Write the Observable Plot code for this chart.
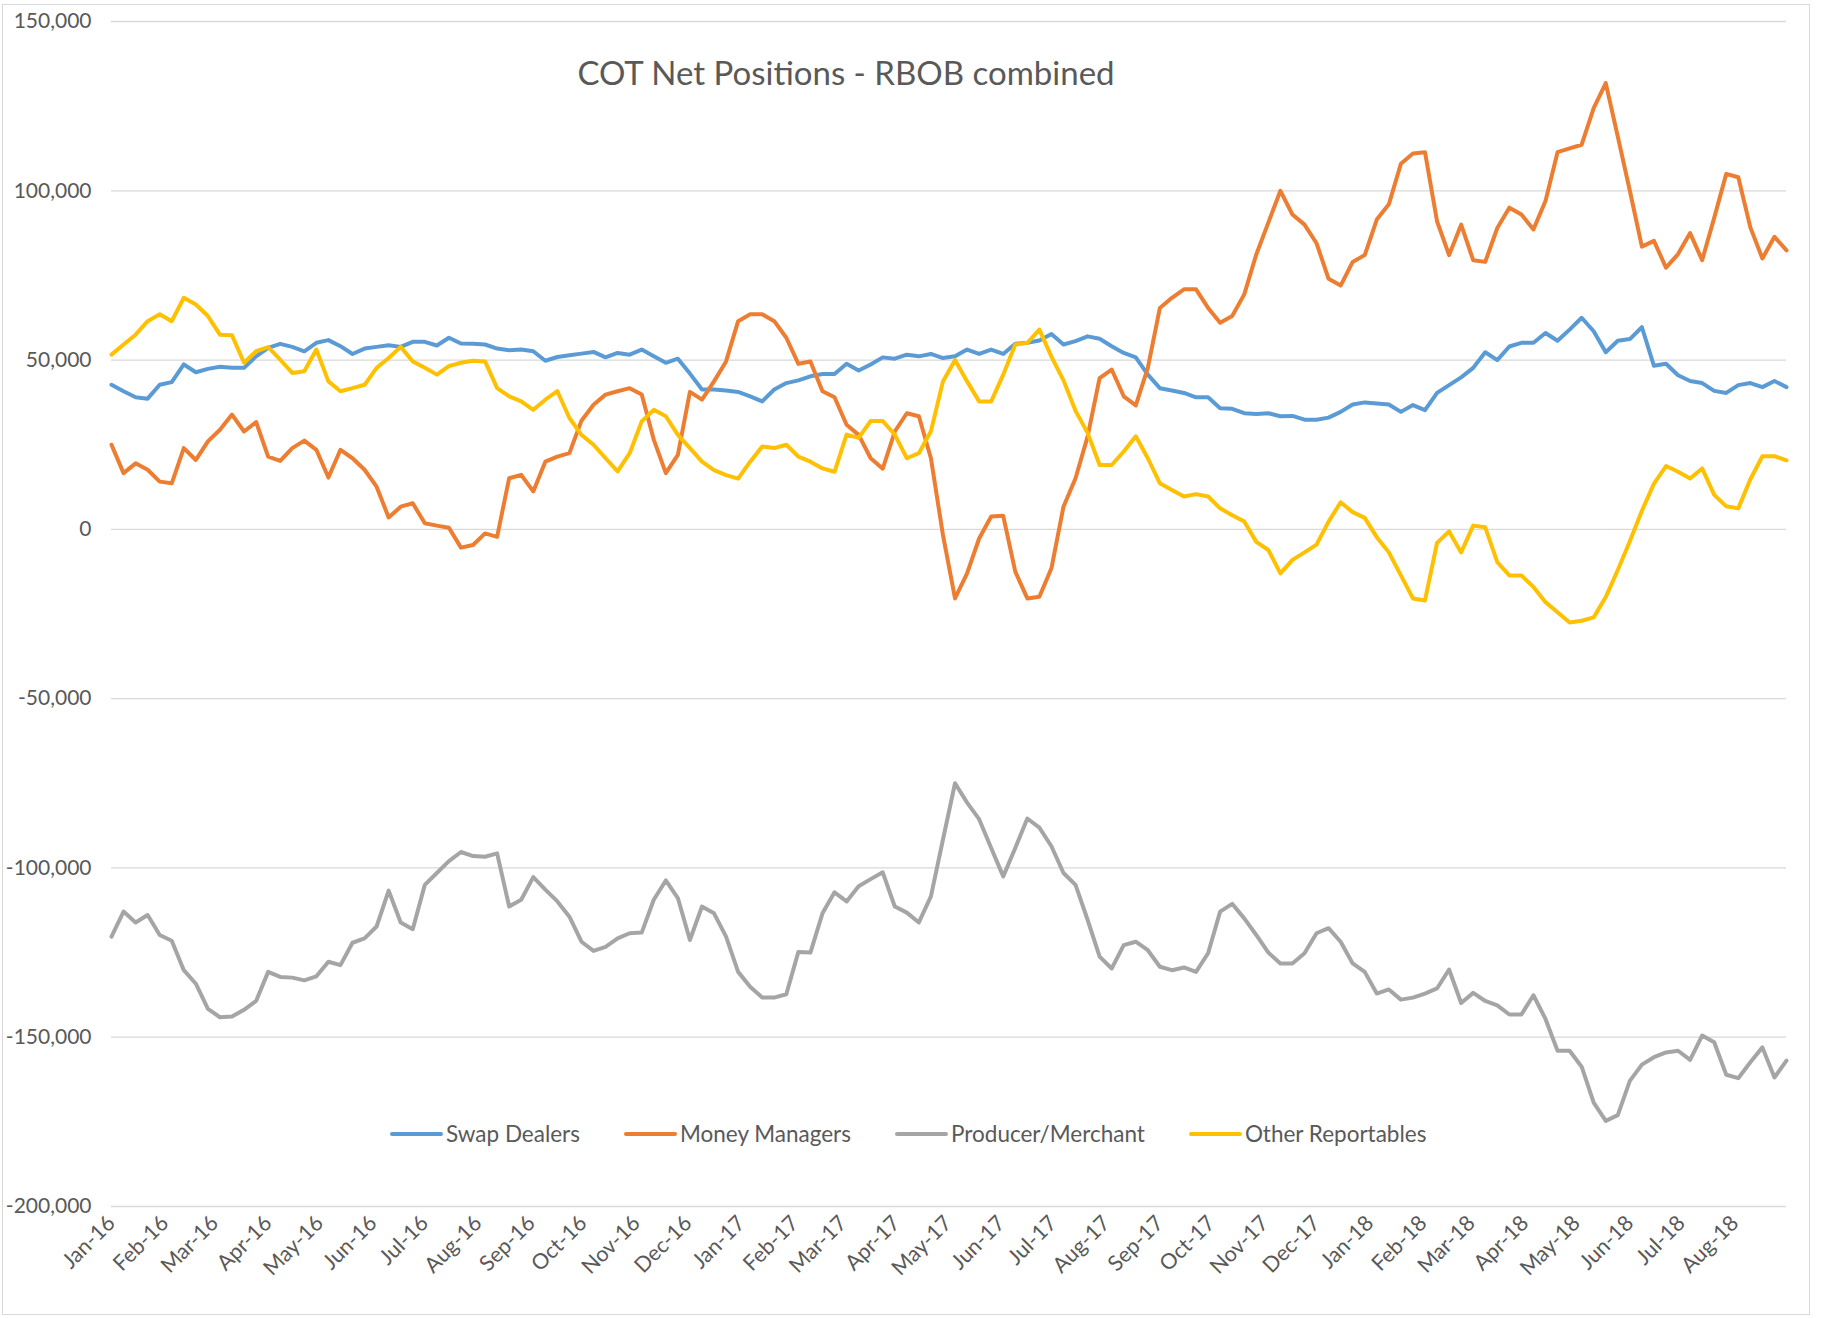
<!DOCTYPE html>
<html>
<head>
<meta charset="utf-8">
<script src="https://cdn.jsdelivr.net/npm/d3@7"></script>
<script src="https://cdn.jsdelivr.net/npm/@observablehq/plot@0.6"></script>
<style>
  html, body { margin: 0; padding: 0; background: #ffffff; }
  #wrap { position: relative; width: 1825px; height: 1318px; background: #ffffff; overflow: hidden; }
  #frame { position: absolute; left: 2px; top: 4px; width: 1808px; height: 1311px; border: 1.5px solid #d9d9d9; box-sizing: border-box; pointer-events: none; }
  #chart { position: absolute; left: 0; top: 0; }
  #title { position: absolute; left: 846px; top: 56px; transform: translateX(-50%); white-space: nowrap;
           font-family: Lato, "Open Sans", sans-serif; font-size: 33px; line-height: 33px; color: #595959; }
  #legend { position: absolute; left: 390px; top: 1123px; display: flex; align-items: center; gap: 44px;
            font-family: Lato, "Open Sans", sans-serif; font-size: 22.5px; line-height: 22.5px; color: #595959; white-space: nowrap; }
  #legend .item { display: flex; align-items: center; gap: 3px; }
  #legend .sw { width: 53px; height: 4px; border-radius: 2px; }
</style>
</head>
<body>
<div id="wrap">
  <div id="chart"></div>
  <div id="title">COT Net Positions - RBOB combined</div>
  <div id="legend"></div>
  <div id="frame"></div>
</div>
<script>
// ---- Data (net positions, thousands of contracts, weekly from 5 Jan 2016) ----
const firstReport = "2016-01-05";

const seriesNames = ["Swap Dealers", "Money Managers", "Producer/Merchant", "Other Reportables"];
const seriesColors = ["#5B9BD5", "#ED7D31", "#A5A5A5", "#FFC000"];

const swapDealers = [42.7,40.8,39,38.6,42.7,43.5,48.7,46.4,47.4,48,47.7,47.7,51.1,53.6,54.8,53.9,52.6,55.1,55.9,54.1,51.8,53.4,53.9,54.4,53.9,55.4,55.4,54.3,56.6,54.9,54.8,54.6,53.4,52.9,53.1,52.6,49.8,50.9,51.4,51.9,52.4,50.8,52.1,51.6,53.1,51.1,49.2,50.4,
46,41.3,41.3,41,40.6,39.3,37.8,41.3,43.2,44,45.2,45.9,45.9,48.9,46.9,48.7,50.8,50.4,51.6,51.1,51.8,50.6,51.1,53.1,51.8,53.1,51.8,54.8,55.1,55.8,57.7,54.6,55.6,57,56.3,54.1,52.1,50.8,45.7,41.7,41,40.3,39,39,35.8,35.6,34.3,34.1,34.3,33.4,
33.5,32.4,32.4,33,34.7,36.9,37.5,37.2,36.9,34.7,36.7,35.2,40.3,42.6,44.9,47.7,52.3,50,54,55.1,55.1,58,55.7,59,62.5,58.5,52.3,55.7,56.2,59.7,48.3,48.9,45.5,43.8,43.2,40.9,40.3,42.6,43.2,42,43.8,42];

const moneyManagers = [25,16.6,19.5,17.6,14.1,13.6,24,20.5,26,29.4,33.9,28.9,31.7,21.5,20.2,24,26.2,23.5,15.3,23.5,21,17.6,12.6,3.5,6.7,7.7,1.8,1.1,0.5,-5.4,-4.6,-1.2,-2.2,15.1,16.1,11.2,20,21.5,22.5,32.1,36.8,39.8,40.8,41.7,39.8,26.5,16.6,22,
40.6,38.3,43.7,49.6,61.5,63.5,63.5,61.5,56.6,48.9,49.6,40.8,39,30.9,27.9,21,17.9,28.9,34.3,33.4,21,-1.7,-20.4,-13,-2.7,3.8,4,-12.5,-20.4,-19.9,-11.5,6.7,15.1,27.4,44.7,47.2,39.3,36.6,47.7,65.4,68.4,70.9,70.9,65.4,61,63,69.4,81.2,90.6,100,
93,90,84.5,74,72,79,81,91.5,96,108,111,111.4,91,81,90,79.5,79,89,95,93,88.6,97,111.4,112.5,113.6,124.4,131.8,116,100,83.5,85.2,77.3,81.3,87.5,79.5,92,105,104,89.2,80,86.4,82.4];

const producerMerchant = [-120.3,-112.9,-116.1,-113.9,-119.8,-121.5,-130.2,-134.2,-141.6,-144.1,-143.9,-141.9,-139.3,-130.7,-132.2,-132.4,-133.2,-132,-127.7,-128.7,-122.1,-120.8,-117.3,-106.7,-116.1,-118.1,-105,-101.5,-98,-95.3,-96.5,-96.7,-95.7,-111.4,-109.4,-102.7,-106.4,-109.9,-114.4,-121.8,-124.5,-123.3,-120.8,-119.3,-119.1,-109.4,-103.7,-108.9,-121.3,-111.4,
-113.4,-120.3,-130.7,-135.1,-138.3,-138.3,-137.3,-124.8,-125,-113.4,-107.2,-109.9,-105.4,-103.3,-101.3,-111.4,-113.2,-116.1,-108.4,-91.6,-75,-80.7,-85.6,-94.1,-102.5,-94.1,-85.4,-88.1,-93.6,-101.5,-105,-115.3,-126.2,-129.7,-122.8,-121.8,-124.3,-129.2,-130.2,-129.4,-130.7,-125.2,-112.9,-110.6,-114.9,-119.8,-125,-128.2,
-128.2,-125.2,-119.3,-117.8,-121.8,-128.2,-130.7,-137.1,-135.9,-138.9,-138.3,-137.1,-135.6,-130,-139.9,-136.9,-139.3,-140.6,-143.3,-143.3,-137.6,-144.6,-154,-154,-158.7,-169.3,-174.7,-173,-162.9,-158.1,-155.9,-154.5,-154,-156.7,-149.5,-151.5,-161.1,-162.1,-157.4,-153,-161.9,-156.9];

const otherReportables = [51.6,54.6,57.5,61.5,63.5,61.5,68.4,66.4,63,57.5,57.3,49.2,52.6,53.8,50.1,46.2,46.7,53.1,43.7,40.8,41.7,42.7,47.7,50.6,53.9,49.6,47.7,45.7,48.2,49.2,49.8,49.6,41.7,39.3,37.8,35.3,38.3,40.8,32.9,27.9,25,21,17.1,22.5,31.9,35.3,33.4,27.9,
24,20,17.5,16,15,20,24.5,24,25,21.5,20,18,17,28,27,32,32,28,21,22.5,29,43.7,50,43.7,37.8,37.8,45.7,54.6,55.1,59,51,44,35,28.5,19,19,23,27.5,21,13.6,11.6,9.7,10.4,9.7,6.2,4.2,2.3,-3.7,-6.1,-13,
-9,-6.8,-4.5,2.3,8,5.1,3.4,-2.3,-6.8,-13.6,-20.4,-21,-4,-0.6,-6.8,1.1,0.6,-9.7,-13.6,-13.6,-17,-21.5,-24.5,-27.5,-27,-26,-20,-12,-3.5,5.5,13.5,18.7,17,15,18,10.2,6.8,6.2,14.8,21.6,21.6,20.4];

const yTickValues = [150000, 100000, 50000, 0, -50000, -100000, -150000, -200000];
const monthLabels = ["Jan-16","Feb-16","Mar-16","Apr-16","May-16","Jun-16","Jul-16","Aug-16","Sep-16","Oct-16","Nov-16","Dec-16",
  "Jan-17","Feb-17","Mar-17","Apr-17","May-17","Jun-17","Jul-17","Aug-17","Sep-17","Oct-17","Nov-17","Dec-17",
  "Jan-18","Feb-18","Mar-18","Apr-18","May-18","Jun-18","Jul-18","Aug-18"];

// ---- Build table ----
const seriesValues = [swapDealers, moneyManagers, producerMerchant, otherReportables];
const start = new Date(firstReport + "T00:00:00Z");
const rows = [];
seriesValues.forEach((vals, s) => {
  vals.forEach((v, i) => {
    rows.push({ date: d3.utcWeek.offset(start, i), value: v * 1000, series: seriesNames[s] });
  });
});
const nWeeks = swapDealers.length;
const lastDate = d3.utcWeek.offset(start, nWeeks - 1);
const parseMonth = d3.utcParse("%b-%y");
const xTickValues = monthLabels.map(l => d3.utcDay.offset(parseMonth(l), 4));
const labelOf = new Map(xTickValues.map((d, i) => [+d, monthLabels[i]]));

const chart = Plot.plot({
  width: 1825,
  height: 1318,
  marginLeft: 111,
  marginRight: 39,
  marginTop: 21,
  marginBottom: 112,
  style: { fontFamily: "Lato, 'Open Sans', sans-serif", fontSize: "21px", color: "#595959", background: "transparent" },
  x: { type: "utc", domain: [start, lastDate] },
  y: { domain: [-200000, 150000] },
  color: { domain: seriesNames, range: seriesColors },
  marks: [
    Plot.gridY(yTickValues, { stroke: "#d9d9d9", strokeOpacity: 1, strokeWidth: 1.3 }),
    Plot.axisY(yTickValues, { tickSize: 0, tickPadding: 20, tickFormat: d => d.toLocaleString("en-US"), label: null, fill: "#595959" }),
    Plot.axisX(xTickValues, { tickSize: 0, tickPadding: 13, tickRotate: -45, tickFormat: d => labelOf.get(+d), label: null, fill: "#595959", fontSize: 21.5 }),
    Plot.line(rows, { x: "date", y: "value", z: "series", stroke: "series", strokeWidth: 4, strokeLinejoin: "round", strokeLinecap: "round" })
  ]
});
document.getElementById("chart").appendChild(chart);

// ---- Legend ----
const legend = document.getElementById("legend");
seriesNames.forEach((name, i) => {
  const item = document.createElement("div");
  item.className = "item";
  const sw = document.createElement("span");
  sw.className = "sw";
  sw.style.background = seriesColors[i];
  const tx = document.createElement("span");
  tx.textContent = name;
  item.appendChild(sw);
  item.appendChild(tx);
  legend.appendChild(item);
});
</script>
</body>
</html>
